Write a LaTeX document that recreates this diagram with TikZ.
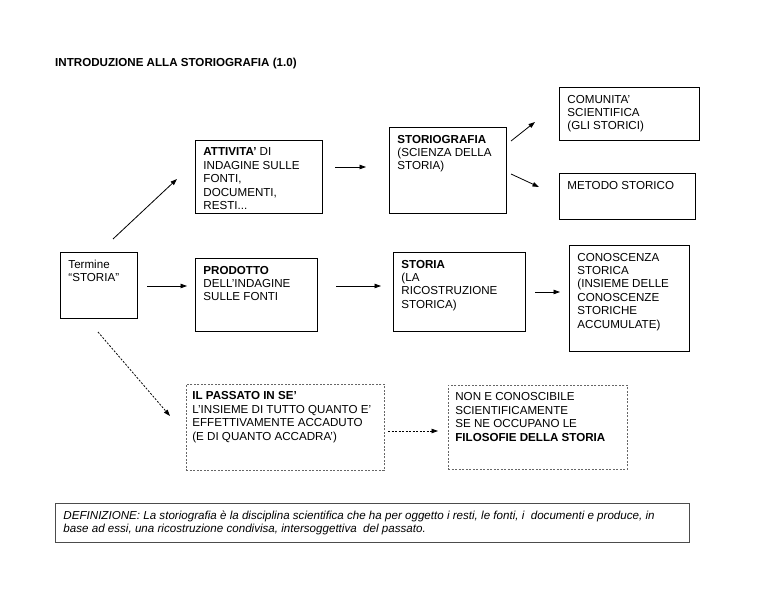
\documentclass[tikz,border=0pt]{standalone}
\usepackage{fontspec}
\setmainfont{Liberation Sans}
\usetikzlibrary{arrows.meta}

\tikzset{
  cell/.style={draw, line width=0.9pt, anchor=north west, inner xsep=8pt, inner ysep=7.5pt},
  dbox/.style={draw=black!60, line width=0.7pt, dash pattern=on 2pt off 1.5pt},
  arr/.style={line width=0.8pt, -{Triangle[length=6.5pt,width=4.5pt]}},
  darr/.style={arr, dash pattern=on 2pt off 1.5pt}
}
\newcommand{\cellbox}[4][8]{\parbox[c][\dimexpr#3pt-15pt\relax][t]{\dimexpr#2pt-#1pt-#1pt\relax}{\raggedright #4}}

\begin{document}
\begin{tikzpicture}[x=1pt, y=-1pt, every node/.style={font=\fontsize{11.6}{13.4}\selectfont}]
            \path[use as bounding box, fill=white] (0,0) rectangle (768,593);
            \node[anchor=base west, inner sep=0pt, font=\fontsize{11.6}{13.4}\selectfont\bfseries] (title) at (55,67) {INTRODUZIONE ALLA STORIOGRAFIA (1.0)};

            % first column
            \node[cell] (term) at (60,252) {\cellbox{77}{66}{Termine\\“STORIA”}};
            \node[cell] (att)  at (195,140) {\cellbox{127}{73}{\textbf{ATTIVITA'} DI\\INDAGINE SULLE\\FONTI,\\DOCUMENTI,\\RESTI...}};
            \node[cell] (prod) at (195,258) {\cellbox{122}{73}{\textbf{PRODOTTO}\\DELL'INDAGINE\\SULLE FONTI}};
            \node[cell, dbox, inner xsep=6pt] (pas) at (186,384) {\cellbox[6]{198}{86}{\textbf{IL PASSATO IN SE'}\\L'INSIEME DI TUTTO QUANTO E'\\EFFETTIVAMENTE ACCADUTO\\(E DI QUANTO ACCADRA')}};

            % second column
            \node[cell] (stg) at (389,127) {\cellbox{117}{86}{\textbf{STORIOGRAFIA}\\(SCIENZA DELLA\\STORIA)}};
            \node[cell] (sto) at (393,252) {\cellbox{132}{79}{\textbf{STORIA}\\(LA\\RICOSTRUZIONE\\STORICA)}};
            \node[cell, dbox, inner xsep=7pt] (non) at (448,385) {\cellbox[7]{179}{84}{NON E CONOSCIBILE\\SCIENTIFICAMENTE\\SE NE OCCUPANO LE\\\textbf{FILOSOFIE DELLA STORIA}}};

            % third column
            \node[cell] (com) at (559,87)  {\cellbox{140}{53}{COMUNITA'\\SCIENTIFICA\\(GLI STORICI)}};
            \node[cell] (met) at (559,173) {\cellbox{136}{46}{METODO STORICO}};
            \node[cell] (con) at (569,245) {\cellbox{120}{106}{CONOSCENZA\\STORICA\\(INSIEME DELLE\\CONOSCENZE\\STORICHE\\ACCUMULATE)}};

            % definition
            \node[cell, draw=black!70] (def) at (55,503) {\cellbox{634}{39}{\itshape DEFINIZIONE: La storiografia è la disciplina scientifica che ha per oggetto i resti, le fonti, i\ \ documenti e produce, in\\base ad essi, una ricostruzione condivisa, intersoggettiva\ \ del passato.}};

            % arrow ends
            \coordinate (term-att-s) at (113,239);   \coordinate (term-att-e) at (177,179);
            \coordinate (term-prod-s) at (147,286);  \coordinate (term-prod-e) at (187,286);
            \coordinate (term-pas-s) at (98,332);    \coordinate (term-pas-e) at (170,416);
            \coordinate (att-stg-s) at (335,167);    \coordinate (att-stg-e) at (366,167);
            \coordinate (prod-sto-s) at (336,286);   \coordinate (prod-sto-e) at (381,286);
            \coordinate (stg-com-s) at (511,141);    \coordinate (stg-com-e) at (535,122);
            \coordinate (stg-met-s) at (511,174);    \coordinate (stg-met-e) at (539,187);
            \coordinate (sto-con-s) at (535,292);    \coordinate (sto-con-e) at (560,292);
            \coordinate (pas-non-s) at (388,431);    \coordinate (pas-non-e) at (438,431);

            \draw[arr] (term-att-s) -- (term-att-e);
            \draw[arr] (term-prod-s) -- (term-prod-e);
            \draw[darr] (term-pas-s) -- (term-pas-e);
            \draw[arr] (att-stg-s) -- (att-stg-e);
            \draw[arr] (prod-sto-s) -- (prod-sto-e);
            \draw[arr] (stg-com-s) -- (stg-com-e);
            \draw[arr] (stg-met-s) -- (stg-met-e);
            \draw[arr] (sto-con-s) -- (sto-con-e);
            \draw[darr] (pas-non-s) -- (pas-non-e);
        \end{tikzpicture}
\end{document}
